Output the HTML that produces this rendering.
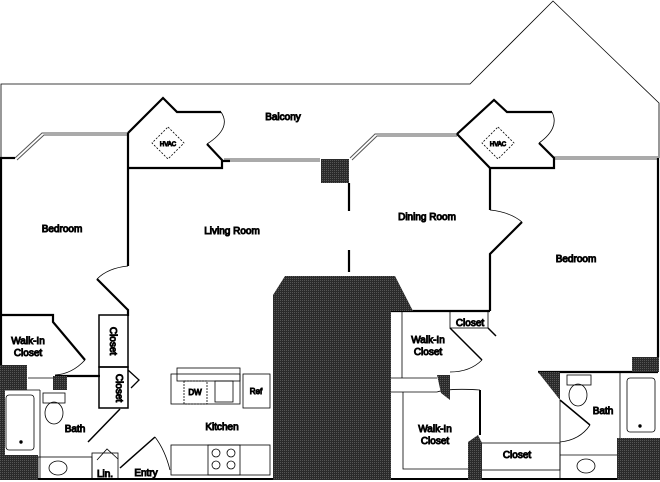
<!DOCTYPE html>
<html><head><meta charset="utf-8"><style>
html,body{margin:0;padding:0;background:#fff;}
svg{display:block}
text{font-family:"Liberation Sans",sans-serif;font-size:10px;fill:#111;text-anchor:middle}
</style></head><body>
<svg width="660" height="482" viewBox="0 0 660 482" xmlns="http://www.w3.org/2000/svg">
<defs><pattern id="d" width="2" height="2" patternUnits="userSpaceOnUse"><rect width="2" height="2" fill="#2a2a2a"/><rect width="1" height="1" fill="#555"/></pattern></defs>
<g fill="none" stroke="#000">
<!-- balcony -->
<polyline points="1,158 1,84 470,84 553,1 659,103 659,158" stroke-width="0.8"/>
<!-- windows -->
<g stroke-width="1" stroke="#555">
<polyline points="15,158 42,133 128,133"/><polyline points="17,160 44,135 128,135"/>
<line x1="224" y1="159" x2="320" y2="159"/><line x1="224" y1="161" x2="320" y2="161"/>
<polyline points="350,158 375,134 457,134"/><polyline points="352,160 377,136 457,136"/>
<line x1="554" y1="157" x2="658" y2="157"/><line x1="554" y1="159" x2="658" y2="159"/>
</g>
<g stroke-width="2.2">
<polyline points="1,158 1,365"/><line x1="0" y1="158" x2="15" y2="158"/>
<!-- left HVAC -->
<polyline points="128,133 163,98 177,112 221,112"/>
<polyline points="207,144 222,160 222,168 128,168"/>
<line x1="222" y1="161" x2="230" y2="161"/>
<!-- right HVAC -->
<polyline points="457,134 494,100 507,112 552,112"/>
<polyline points="539,143 554,158 554,168 490,168 457,134"/>
<polyline points="128,133 128,266"/>
<polyline points="97,279 128,310 128,316"/>
<line x1="349" y1="183" x2="349" y2="211"/>
<line x1="349" y1="250" x2="349" y2="272"/>
<polyline points="490,168 490,210"/>
<polyline points="522,222 490,254 490,311"/>
<line x1="658" y1="158" x2="658" y2="357"/>
<!-- left closets -->
<polyline points="0,315 53,315 53,322 85,360"/>
<line x1="55" y1="376" x2="100" y2="376"/>
<rect x="99" y="315" width="29" height="52" stroke-width="1.5"/>
<rect x="99" y="367" width="29" height="41" stroke-width="1.5"/>
<polyline points="128,370 139,380 131,388" stroke-width="1.3"/>
<line x1="120" y1="409" x2="88" y2="442" stroke-width="1.5"/>
<line x1="120" y1="468" x2="155" y2="437" stroke-width="1.5"/>
<!-- right closets -->
<polyline points="391,311 490,311"/>
<polyline points="450,328 482,360" stroke-width="1.5"/>
<line x1="488" y1="328" x2="496" y2="336" stroke-width="1.5"/>
<line x1="538" y1="372" x2="658" y2="372"/>
<line x1="560" y1="400" x2="590" y2="425" stroke-width="1.5"/>
<line x1="0" y1="479" x2="660" y2="479" stroke-width="2"/>
</g>
<g stroke-width="0.8">
<!-- door arcs -->
<path d="M221,112 Q232,128 207,144"/>
<path d="M552,112 Q560,128 539,143"/>
<path d="M128,266 Q108,268 97,279"/>
<path d="M490,210 Q510,212 522,222"/>
<path d="M85,360 Q72,374 55,375"/>
<path d="M482,360 Q470,372 450,372"/>
<path d="M437,392 Q450,388 480,390"/>
<path d="M590,425 Q580,440 560,442"/>
<path d="M155,437 Q165,450 170,470"/>
<!-- HVAC diamonds -->
<polygon points="168,127 184,143 168,159 152,143" stroke-dasharray="2,1.5"/>
<polygon points="498,127 514,143 498,159 482,143" stroke-dasharray="2,1.5"/>
<!-- left bath -->
<rect x="6" y="395" width="28" height="55" rx="3"/>
<rect x="43" y="393" width="22" height="10"/>
<ellipse cx="54" cy="413" rx="9" ry="11"/>
<rect x="38" y="457" width="54" height="22"/>
<ellipse cx="58" cy="468" rx="9" ry="7"/>
<rect x="92" y="453" width="26" height="26"/>
<polyline points="97,460 107,449 118,459"/>
<line x1="5" y1="390" x2="40" y2="390"/><line x1="40" y1="390" x2="40" y2="479"/>
<line x1="28" y1="378" x2="55" y2="378"/>
<!-- kitchen -->
<rect x="177" y="368" width="63" height="13"/>
<rect x="171" y="374" width="69" height="30"/>
<rect x="184" y="381" width="23" height="23" stroke-dasharray="2,1"/>
<rect x="215" y="381" width="18" height="21"/>
<rect x="243" y="374" width="27" height="34"/>
<rect x="171" y="445" width="99" height="30"/>
<rect x="208" y="445" width="32" height="30"/>
<circle cx="216" cy="453" r="4"/><circle cx="231" cy="453" r="4"/>
<circle cx="216" cy="465" r="4"/><circle cx="231" cy="465" r="4"/>
<!-- right closets -->
<rect x="450" y="311" width="38" height="17"/>
<line x1="402" y1="311" x2="402" y2="378"/>
<line x1="391" y1="378" x2="437" y2="378"/><line x1="391" y1="392" x2="437" y2="392"/>
<polyline points="403,392 403,469 470,469"/>
<line x1="480" y1="390" x2="480" y2="435" stroke-width="2"/>
<rect x="478" y="443" width="82" height="27"/>
<line x1="560" y1="400" x2="560" y2="479"/>
<line x1="560" y1="455" x2="617" y2="455"/>
<ellipse cx="586" cy="466" rx="9" ry="7"/>
<rect x="567" y="375" width="24" height="10"/>
<ellipse cx="578" cy="395" rx="9" ry="11"/>
<rect x="627" y="378" width="28" height="54" rx="3"/>
<line x1="620" y1="372" x2="620" y2="438"/>
</g>
<!-- dark masses -->
<g fill="url(#d)" stroke="none">
<rect x="321" y="159" width="28" height="24"/>
<polygon points="273,295 285,276 395,276 413,311 391,311 391,480 273,480"/>
<rect x="0" y="365" width="27" height="25"/>
<rect x="53" y="376" width="14" height="14"/>
<rect x="0" y="390" width="5" height="90"/>
<rect x="0" y="455" width="38" height="25"/>
<rect x="632" y="357" width="27" height="15"/>
<polygon points="538,372 560,372 560,400"/>
<rect x="617" y="438" width="43" height="42"/>
<polygon points="437,375 450,375 450,400 441,393"/>
<polygon points="468,442 478,435 482,443 482,480 468,480"/>
</g>
<g fill="#000"><circle cx="21" cy="442" r="1.2"/><circle cx="640" cy="426" r="1.2"/></g>
<text x="283" y="120">Balcony</text>
<text x="168" y="146" style="font-size:6px">HVAC</text>
<text x="498" y="146" style="font-size:6px">HVAC</text>
<text x="62" y="232">Bedroom</text>
<text x="232" y="234">Living Room</text>
<text x="427" y="220">Dining Room</text>
<text x="576" y="262">Bedroom</text>
<text x="28" y="344">Walk-In</text><text x="28" y="356">Closet</text>
<text x="110" y="341" transform="rotate(90 110 341)">Closet</text>
<text x="116" y="388" transform="rotate(90 116 388)">Closet</text>
<text x="75" y="432">Bath</text>
<text x="105" y="477">Lin.</text>
<text x="146" y="476">Entry</text>
<text x="195" y="395" style="font-size:8px">DW</text>
<text x="256" y="394" style="font-size:8px">Ref</text>
<text x="222" y="430">Kitchen</text>
<text x="470" y="326">Closet</text>
<text x="428" y="343">Walk-In</text><text x="428" y="355">Closet</text>
<text x="435" y="432">Walk-In</text><text x="435" y="444">Closet</text>
<text x="517" y="458">Closet</text>
<text x="603" y="414">Bath</text>
</svg>
</body></html>
